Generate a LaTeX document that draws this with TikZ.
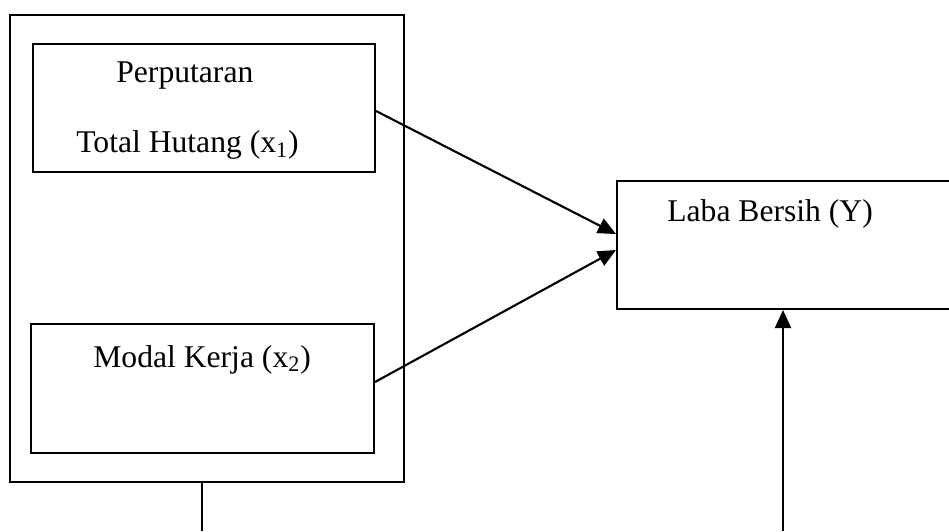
\documentclass[tikz,border=0pt]{standalone}
\usepackage{fontspec}
\setmainfont{Liberation Serif}
\usetikzlibrary{arrows.meta}

\tikzset{
  kotak/.style={draw, line width=1.2pt, rectangle, inner sep=0pt},
  teks/.style={anchor=base west, inner sep=0pt, font=\fontsize{18}{20}\selectfont},
  panah/.style={line width=1.2pt, -{Triangle[length=0.36cm,width=0.32cm]}}
}

\begin{document}
\begin{tikzpicture}[x=0.02cm,y=0.02cm]
                \useasboundingbox (0,0) rectangle (949,531);
                % kotak variabel
                \node[kotak, minimum width=7.88cm, minimum height=9.34cm] (luar) at (207,282.5) {};
                \node[kotak, minimum width=6.84cm, minimum height=2.56cm] (hutang) at (204,423) {};
                \node[kotak, minimum width=6.86cm, minimum height=2.58cm] (modal) at (202.5,142.5) {};
                \node[kotak, minimum width=7.2cm, minimum height=2.56cm] (laba) at (797,286) {};
                % teks
                \node[teks] (t1) at (116,448) {Perputaran};
                \node[teks] (t2) at (76,378) {Total Hutang (x\textsubscript{1})};
                \node[teks] (t3) at (93,164) {Modal Kerja (x\textsubscript{2})};
                \node[teks] (t4) at (667,309) {Laba Bersih (Y)};
                % panah
                \coordinate (bawah1) at (202,0);
                \coordinate (bawah2) at (783,0);
                \draw[panah] ([yshift=-0.06cm]hutang.east) -- (laba.west |- 0,297);
                \draw[panah] ([yshift=0.13cm]modal.east) -- (laba.west |- 0,281);
                \draw[line width=1.2pt] (bawah1 |- luar.south) -- (bawah1);
                \draw[panah] (bawah2) -- (bawah2 |- laba.south);
            \end{tikzpicture}
\end{document}
